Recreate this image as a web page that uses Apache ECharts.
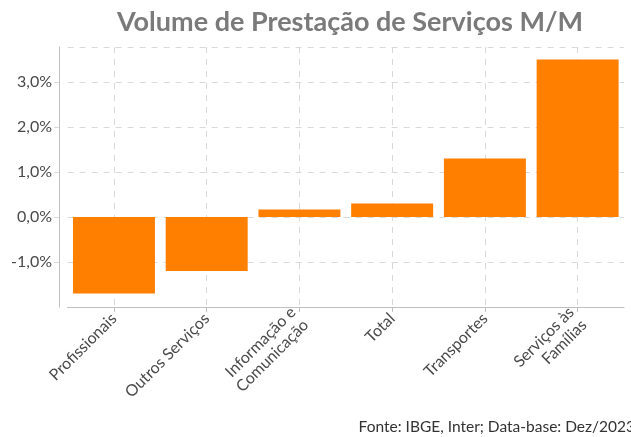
<!DOCTYPE html>
<html>
<head>
<meta charset="utf-8">
<script src="https://cdn.jsdelivr.net/npm/echarts@6/dist/echarts.min.js"></script>
<style>
  html, body { margin: 0; padding: 0; background: #fff; }
  #chart { width: 631px; height: 437px; }
</style>
</head>
<body>
<div id="chart"></div>
<script>
// categories and month-on-month change (%)
const categories = [
  "Profissionais",
  "Outros Serviços",
  "Informação e\nComunicação",
  "Total",
  "Transportes",
  "Serviços às\nFamílias"
];
const values = [-1.7, -1.2, 0.17, 0.3, 1.3, 3.5];

const chart = echarts.init(document.getElementById("chart"));

const gridColor = "#d9d9d9";
const fmt = (v) => v.toFixed(1).replace(".", ",") + "%";

chart.setOption({
  animation: false,
  backgroundColor: "#ffffff",
  textStyle: { fontFamily: "Lato" },
  title: {
    text: "Volume de Prestação de Serviços M/M",
    left: 345,
    textAlign: "center",
    top: 4,
    textStyle: { fontFamily: "Lato", fontSize: 27, fontWeight: "bold", color: "#7a7a7a" }
  },
  grid: { left: 67.6, right: 7, top: 47, bottom: 130, containLabel: false },
  xAxis: {
    type: "category",
    data: categories,
    axisLine: { show: true, onZero: false, lineStyle: { color: "#bfbfbf" } },
    axisTick: { show: true, alignWithLabel: true, length: 5, lineStyle: { color: "#bfbfbf" } },
    splitLine: { show: true, alignWithLabel: true, lineStyle: { color: gridColor, type: [6, 6], width: 1 } },
    axisLabel: {
      rotate: 45,
      margin: 9,
      interval: 0,
      fontSize: 16,
      color: "#4a4a4a",
      lineHeight: 18
    }
  },
  yAxis: {
    type: "value",
    min: -2,
    max: 3.78,
    interval: 1,
    offset: 8.6,
    axisLine: { show: true, lineStyle: { color: "#bfbfbf" } },
    axisTick: { show: true, length: 5, lineStyle: { color: gridColor } },
    splitLine: { show: true, lineStyle: { color: gridColor, type: [6, 6], width: 1 } },
    axisLabel: {
      showMinLabel: false,
      showMaxLabel: false,
      fontSize: 16,
      color: "#4a4a4a",
      margin: 7,
      formatter: fmt
    }
  },
  series: [{
    type: "bar",
    data: values,
    barCategoryGap: "11.6%",
    itemStyle: { color: "#ff7f00" }
  }],
  graphic: [{
    type: "text",
    right: -4,
    bottom: 2,
    style: {
      text: "Fonte: IBGE, Inter; Data-base: Dez/2023",
      fontFamily: "Lato",
      fontSize: 15.5,
      fill: "#333"
    }
  }]
});
</script>
</body>
</html>
